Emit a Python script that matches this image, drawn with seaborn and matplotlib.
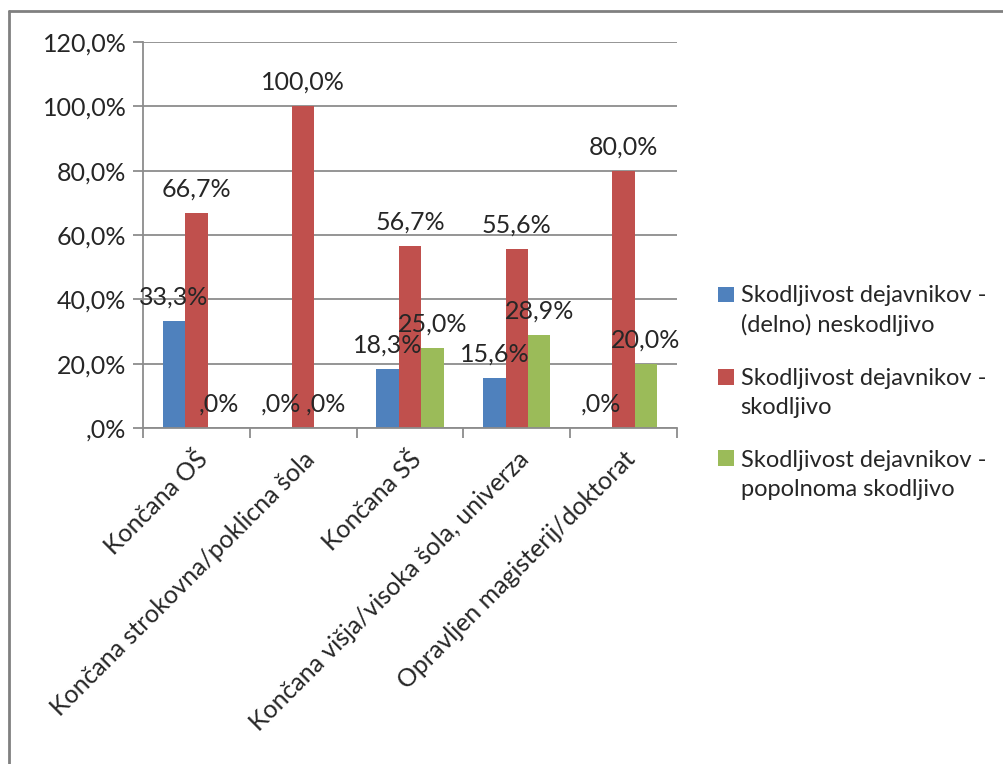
import matplotlib
matplotlib.use("Agg")
import matplotlib.pyplot as plt
from matplotlib.lines import Line2D
from matplotlib.patches import Rectangle
from matplotlib.legend_handler import HandlerBase
from matplotlib.ticker import FixedLocator, FuncFormatter
import seaborn as sns
import pandas as pd

# --- data -------------------------------------------------------------
categories = [
    "Končana OŠ",
    "Končana strokovna/poklicna šola",
    "Končana SŠ",
    "Končana višja/visoka šola, univerza",
    "Opravljen magisterij/doktorat",
]
series_names = [
    "Skodljivost dejavnikov -\n(delno) neskodljivo",
    "Skodljivost dejavnikov -\nskodljivo",
    "Skodljivost dejavnikov -\npopolnoma skodljivo",
]
neskodljivo = [33.3, 0.0, 18.3, 15.6, 0.0]
skodljivo = [66.7, 100.0, 56.7, 55.6, 80.0]
popolnoma = [0.0, 0.0, 25.0, 28.9, 20.0]
y_ticks = [0, 20, 40, 60, 80, 100, 120]

colors = ["#4F81BD", "#C0504D", "#9BBB59"]

rows = []
for name, vals in zip(series_names, [neskodljivo, skodljivo, popolnoma]):
    for cat, v in zip(categories, vals):
        rows.append({"cat": cat, "val": v, "series": name})
df = pd.DataFrame(rows)


def pct(v):
    s = f"{v:.1f}".replace(".", ",")
    if s.startswith("0,"):
        s = s[1:]
    return s + "%"


class FirstLineSquare(HandlerBase):
    """Legend key drawn level with the first line of a two-line label."""

    def __init__(self, shift):
        super().__init__()
        self.shift = shift

    def create_artists(self, legend, orig_handle, xdescent, ydescent,
                       width, height, fontsize, trans):
        p = Rectangle((-xdescent, -ydescent + self.shift), width, height,
                      facecolor=orig_handle.get_facecolor(),
                      edgecolor="none", transform=trans)
        return [p]


# --- figure -----------------------------------------------------------
sns.set_style("white")
plt.rcParams["font.family"] = ["Lato", "DejaVu Sans"]
FS = 18
LEG_FS = 17
TXT = "#262626"
GRID = "#8c8c8c"

fig = plt.figure(figsize=(10.04, 7.64), dpi=100)
ax = fig.add_axes([143 / 1004, 1 - 428 / 764, (677 - 143) / 1004, (428 - 42) / 764])

sns.barplot(data=df, x="cat", y="val", hue="series", palette=colors,
            width=0.63, saturation=1, linewidth=0, ax=ax, legend=True)

ax.set_xlim(-0.5, len(categories) - 0.5)
ax.set_ylim(0, 120)
ax.yaxis.set_major_locator(FixedLocator(y_ticks))
ax.yaxis.set_major_formatter(FuncFormatter(lambda v, p: pct(v)))
ax.grid(axis="y", color=GRID, linewidth=1.3)
ax.set_axisbelow(True)
ax.set_xlabel("")
ax.set_ylabel("")

for side in ["top", "right"]:
    ax.spines[side].set_visible(False)
for side in ["left", "bottom"]:
    ax.spines[side].set_color(GRID)
    ax.spines[side].set_linewidth(1.3)

ax.tick_params(axis="y", which="major", left=True, length=7, width=1.3,
               color=GRID, labelsize=FS, labelcolor=TXT, pad=5)
ax.tick_params(axis="x", which="major", bottom=False, length=0,
               labelsize=FS, labelcolor=TXT, pad=14)
ax.set_xticks([i - 0.5 for i in range(len(categories) + 1)], minor=True)
ax.tick_params(axis="x", which="minor", bottom=True, length=7, width=1.3,
               color=GRID)
plt.setp(ax.get_xticklabels(), rotation=45, ha="right",
         rotation_mode="anchor")

# value labels above each bar
for container, vals in zip(ax.containers, [neskodljivo, skodljivo, popolnoma]):
    ax.bar_label(container, labels=[pct(v) for v in vals], padding=9,
                 fontsize=FS, color=TXT)

# legend on the right
handles, labels = ax.get_legend_handles_labels()
ax.legend_.remove()
leg = fig.legend(handles, labels, loc="upper left",
                 bbox_to_anchor=(697 / 1004, 1 - 264 / 764), frameon=False,
                 fontsize=LEG_FS, labelcolor=TXT, handlelength=0.65,
                 handleheight=0.65, handletextpad=0.3, labelspacing=1.35,
                 handler_map={h: FirstLineSquare(12.0) for h in handles})
for t in leg.get_texts():
    t.set_linespacing(1.45)

# outer chart frame
fig.add_artist(Line2D([9 / 1004, 1.0], [1 - 11 / 764, 1 - 11 / 764],
                      transform=fig.transFigure, color="#808080", linewidth=2))
fig.add_artist(Line2D([9 / 1004, 9 / 1004], [0.0, 1 - 11 / 764],
                      transform=fig.transFigure, color="#808080", linewidth=2))

fig.savefig("out.png", dpi=100)
